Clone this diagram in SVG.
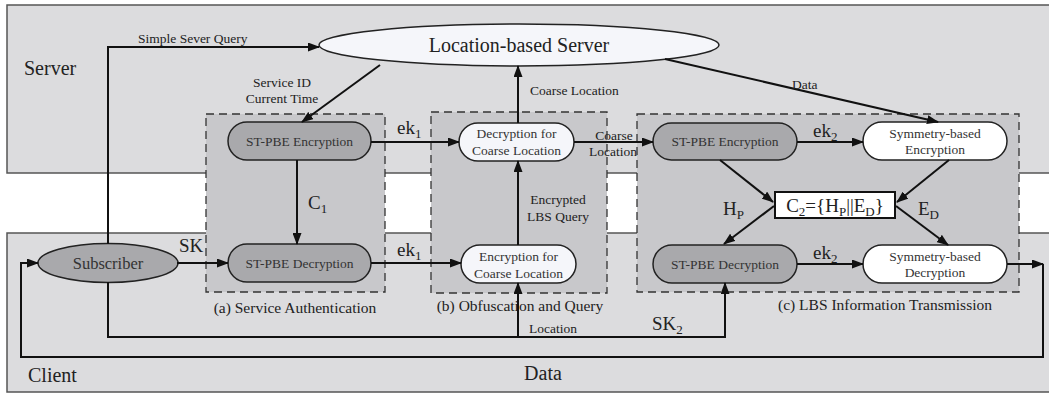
<svg xmlns="http://www.w3.org/2000/svg" width="1049" height="395" viewBox="0 0 1049 395">
<defs>
<marker id="ah" viewBox="0 0 12 9" refX="11" refY="4.5" markerWidth="12" markerHeight="9" markerUnits="userSpaceOnUse" orient="auto"><path d="M0,0 L12,4.5 L0,9 z" fill="#111"/></marker>
</defs>
<style>
text{font-family:"Liberation Serif","Times New Roman",serif;}
.panel{fill:#dcdcde;stroke:#555;stroke-width:1.5}
.grp{fill:#c8c8cb;stroke:#333;stroke-width:1.3;stroke-dasharray:8 5}
.gray{fill:#a9a9ac;stroke:#222;stroke-width:1.5}
.white{fill:#ffffff;stroke:#222;stroke-width:1.5}
.off{fill:#f5f6fa;stroke:#222;stroke-width:1.5}
.ln{fill:none;stroke:#111;stroke-width:2}
.arr{marker-end:url(#ah)}
.nt{font-size:13.5px;fill:#333;text-anchor:middle}
.lb{font-size:13.5px;fill:#222}
.lbm{font-size:13.5px;fill:#222;text-anchor:middle}
.big{font-size:19px;fill:#222}
.cap{font-size:15.5px;fill:#222;text-anchor:middle}
.pl{font-size:20px;fill:#222}
.sub{font-size:13px}
</style>
<rect x="0" y="0" width="1049" height="395" fill="#ffffff"/>
<g id="panels">
<rect class="panel" x="7" y="5" width="1050" height="168"/>
<rect class="panel" x="7" y="233" width="1050" height="159"/>
<text class="pl" x="24" y="75">Server</text>
<text class="pl" x="28" y="382">Client</text>
<text class="pl" x="543" y="380" text-anchor="middle">Data</text>
</g>
<g id="group-a">
<rect class="grp" x="206" y="114" width="179" height="178"/>
<text class="cap" x="295" y="313">(a) Service Authentication</text>
</g>
<g id="group-b">
<rect class="grp" x="431" y="112" width="176" height="181"/>
<text class="cap" x="520" y="311">(b) Obfuscation and Query</text>
</g>
<g id="group-c">
<rect class="grp" x="637" y="114" width="382" height="178"/>
<text class="cap" x="885" y="310">(c) LBS Information Transmission</text>
</g>
<g id="lbs-server">
<ellipse class="off" cx="519" cy="45" rx="200" ry="21"/>
<text x="519" y="52" font-size="20" fill="#222" text-anchor="middle">Location-based Server</text>
</g>
<g id="subscriber">
<ellipse class="gray" cx="108" cy="263" rx="70" ry="19.5"/>
<text x="108" y="269" font-size="16.5" fill="#333" text-anchor="middle">Subscriber</text>
</g>
<g id="a-enc">
<rect class="gray" x="228" y="122" width="143" height="38" rx="19"/>
<text class="nt" x="299.5" y="146">ST-PBE Encryption</text>
</g>
<g id="a-dec">
<rect class="gray" x="228" y="244" width="143" height="38" rx="19"/>
<text class="nt" x="299.5" y="268">ST-PBE Decryption</text>
</g>
<g id="b-dec">
<rect class="off" x="459" y="123" width="115" height="38" rx="19"/>
<text class="nt" x="516.5" y="137.5">Decryption for</text>
<text class="nt" x="516.5" y="154.5">Coarse Location</text>
</g>
<g id="b-enc">
<rect class="off" x="461" y="245" width="115" height="38" rx="19"/>
<text class="nt" x="518.5" y="260.5">Encryption for</text>
<text class="nt" x="518.5" y="277.5">Coarse Location</text>
</g>
<g id="c-enc">
<rect class="gray" x="653" y="123" width="144" height="37" rx="18.5"/>
<text class="nt" x="725" y="146">ST-PBE Encryption</text>
</g>
<g id="c-dec">
<rect class="gray" x="653" y="245" width="144" height="38" rx="19"/>
<text class="nt" x="725" y="268.5">ST-PBE Decryption</text>
</g>
<g id="sym-enc">
<rect class="white" x="863" y="122" width="144" height="38" rx="19"/>
<text class="nt" x="935" y="138">Symmetry-based</text>
<text class="nt" x="935" y="154">Encryption</text>
</g>
<g id="sym-dec">
<rect class="white" x="863" y="245" width="144" height="38" rx="19"/>
<text class="nt" x="935" y="261">Symmetry-based</text>
<text class="nt" x="935" y="277">Decryption</text>
</g>
<g id="c2">
<rect x="775" y="192" width="120" height="26" fill="#ffffff" stroke="#111" stroke-width="2"/>
<text class="big" x="835" y="212" text-anchor="middle">C<tspan class="sub" dy="4">2</tspan><tspan dy="-4">={H</tspan><tspan class="sub" dy="4">P</tspan><tspan dy="-4">||E</tspan><tspan class="sub" dy="4">D</tspan><tspan dy="-4">}</tspan></text>
</g>
<g id="connectors">
<path class="ln arr" d="M108,244 V47 H319"/>
<path class="ln arr" d="M380,65 L302,122"/>
<path class="ln arr" d="M297,160 V244"/>
<path class="ln arr" d="M177,263 H228"/>
<path class="ln arr" d="M371,142 H459"/>
<path class="ln arr" d="M371,263 H461"/>
<path class="ln arr" d="M518,245 V161"/>
<path class="ln arr" d="M518,123 V66"/>
<path class="ln arr" d="M574,142 H653"/>
<path class="ln arr" d="M665,59 L938,122"/>
<path class="ln arr" d="M797,142 H863"/>
<path class="ln arr" d="M720,160 L773,202"/>
<path class="ln arr" d="M949,160 L897,202"/>
<path class="ln arr" d="M774,206 L724,244"/>
<path class="ln arr" d="M896,206 L948,245"/>
<path class="ln arr" d="M797,264 H863"/>
<path class="ln arr" d="M108,282 V337 H725 V283"/>
<path class="ln arr" d="M518,337 V283"/>
<path class="ln arr" d="M1007,264 H1043"/>
<path class="ln arr" d="M1043,264 V357 H21 V263 H38"/>
</g>
<g id="labels">
<text class="lb" x="138" y="43">Simple Sever Query</text>
<text class="lbm" x="282" y="87">Service ID</text>
<text class="lbm" x="282" y="103">Current Time</text>
<text class="lb" x="530" y="95">Coarse Location</text>
<text class="lbm" x="558" y="204">Encrypted</text>
<text class="lbm" x="558" y="221">LBS Query</text>
<text class="lbm" x="614" y="140">Coarse</text>
<text class="lbm" x="613" y="156">Location</text>
<text class="lb" x="792" y="89">Data</text>
<text class="lb" x="529" y="333">Location</text>
<text class="big" x="397" y="134">ek<tspan class="sub" dy="4">1</tspan></text>
<text class="big" x="397" y="256">ek<tspan class="sub" dy="4">1</tspan></text>
<text class="big" x="308" y="209">C<tspan class="sub" dy="4">1</tspan></text>
<text class="big" x="179" y="252">SK</text>
<text class="big" x="723" y="215">H<tspan class="sub" dy="4">P</tspan></text>
<text class="big" x="918" y="215">E<tspan class="sub" dy="4">D</tspan></text>
<text class="big" x="813" y="137">ek<tspan class="sub" dy="4">2</tspan></text>
<text class="big" x="813" y="259">ek<tspan class="sub" dy="4">2</tspan></text>
<text class="big" x="652" y="330">SK<tspan class="sub" dy="4">2</tspan></text>
</g>
</svg>
